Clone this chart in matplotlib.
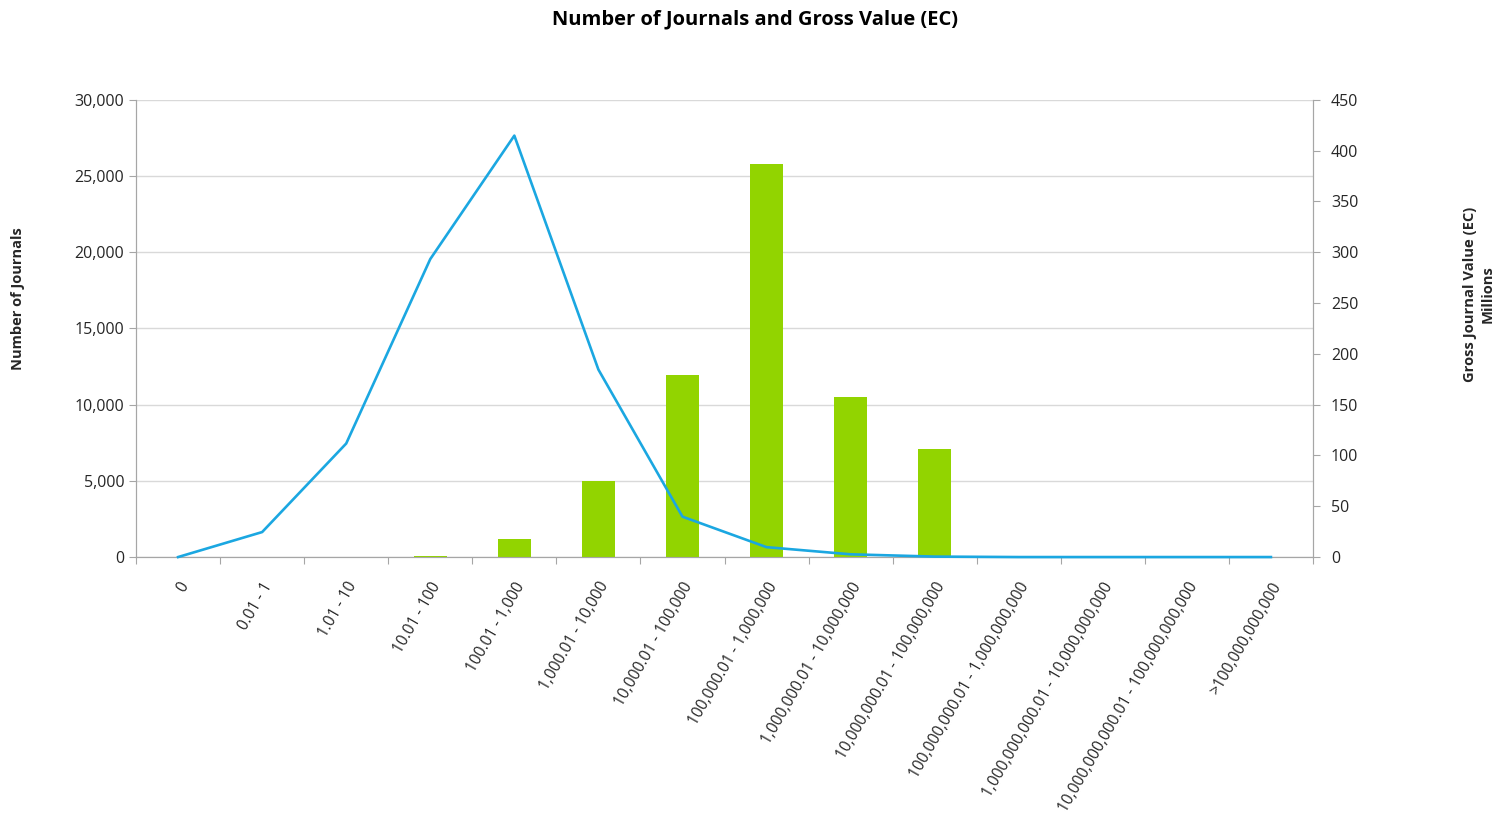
import numpy as np
import matplotlib.pyplot as plt
from matplotlib.ticker import FuncFormatter

plt.rcParams['font.family'] = ['Open Sans', 'DejaVu Sans']

# DATA ----------------------------------------------------------------------#
categories = ['0', '0.01 - 1', '1.01 - 10', '10.01 - 100', '100.01 - 1,000',
              '1,000.01 - 10,000', '10,000.01 - 100,000', '100,000.01 - 1,000,000',
              '1,000,000.01 - 10,000,000', '10,000,000.01 - 100,000,000',
              '100,000,000.01 - 1,000,000,000', '1,000,000,000.01 - 10,000,000,000',
              '10,000,000,000.01 - 100,000,000,000', '>100,000,000,000']
num_journals = [0, 1640, 7450, 19550, 27650, 12300, 2650, 650, 180, 30, 0, 0, 0, 0]
gross_value = [0, 0, 0, 1.5, 17.4, 75, 179, 387, 157.5, 106, 0, 0, 0, 0]

green = '#92D400'
blue = '#1BA7E1'
axis_gray = '#A6A6A6'
text_col = '#262626'

fig = plt.figure(figsize=(15, 8.18), dpi=100)
ax = fig.add_axes([0.0907, 0.319, 0.7846, 0.559])   # left axis + grid
ax2 = ax.twinx()                                     # right axis, bars
ax3 = ax.twinx()                                     # line on left scale, drawn on top

x = np.arange(len(categories))

ax2.bar(x, gross_value, width=0.39, color=green, zorder=2)
ax3.plot(x, num_journals, color=blue, linewidth=1.9, clip_on=False)

ax.set_xlim(-0.5, len(categories) - 0.5)
ax.set_ylim(0, 30000)
ax3.set_ylim(0, 30000)
ax2.set_ylim(0, 450)
ax.set_yticks(np.arange(0, 30001, 5000))
ax2.set_yticks(np.arange(0, 451, 50))
ax.yaxis.set_major_formatter(FuncFormatter(lambda v, p: '{:,.0f}'.format(v)))

ax.grid(axis='y', color='#D9D9D9', linewidth=1.0)
ax.set_axisbelow(True)

# category ticks between groups, labels at centres
ax.set_xticks(np.arange(-0.5, len(categories), 1.0), minor=False)
ax.set_xticklabels([])
ax.set_xticks(x, minor=True)
ax.set_xticklabels(categories, minor=True, rotation=60, ha='right',
                   rotation_mode='anchor', fontsize=11.2, color=text_col)
ax.tick_params(axis='x', which='minor', length=0, pad=16)
ax.tick_params(axis='x', which='major', length=5, color=axis_gray)

for a in (ax, ax2):
    a.spines['top'].set_visible(False)
    for s in ('left', 'right', 'bottom'):
        a.spines[s].set_color(axis_gray)
ax3.axis('off')
ax.tick_params(axis='y', length=5, color=axis_gray, labelsize=11.5, labelcolor=text_col)
ax2.tick_params(axis='y', length=5, color=axis_gray, labelsize=11.5, labelcolor=text_col, pad=8)

fig.text(18 / 1500, 0.6345, 'Number of Journals', rotation=90, ha='center', va='center',
         fontsize=10.5, fontweight='bold', color=text_col)
fig.text(1479 / 1500, 0.6406, 'Gross Journal Value (EC)\nMillions', rotation=90,
         ha='center', va='center', multialignment='center', linespacing=1.35,
         fontsize=10.6, fontweight='bold', color=text_col)

fig.text(0.503, 0.976, 'Number of Journals and Gross Value (EC)', ha='center', va='center',
         fontsize=14.5, fontweight='bold', color='#000000')

plt.savefig('out.png', dpi=100)
